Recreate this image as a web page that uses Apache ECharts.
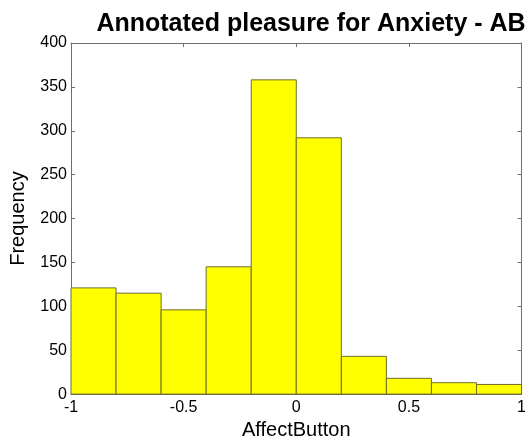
<!DOCTYPE html>
<html>
<head>
<meta charset="utf-8">
<script src="https://cdn.jsdelivr.net/npm/echarts@6/dist/echarts.min.js"></script>
<style>
  html, body { margin: 0; padding: 0; background: #fff; }
  #chart { width: 529px; height: 445px; }
</style>
</head>
<body>
<div id="chart"></div>
<script>
// Histogram bins: left edges, right edges and counts
const binStart = [-1.0, -0.8, -0.6, -0.4, -0.2, 0.0, 0.2, 0.4, 0.6, 0.8];
const binEnd   = [-0.8, -0.6, -0.4, -0.2, 0.0, 0.2, 0.4, 0.6, 0.8, 1.0];
const counts   = [121, 115, 96, 145, 358, 292, 43, 18, 13, 11];

const xTicks = [-1, -0.5, 0, 0.5, 1];
const yTicks = [0, 50, 100, 150, 200, 250, 300, 350, 400];

const chartTitle = 'Annotated pleasure for Anxiety - AB';
const xName = 'AffectButton';
const yName = 'Frequency';

const FONT = '"Liberation Sans", Arial, sans-serif';
const AXIS_COLOR = '#6e6e6e';

const bins = binStart.map((s, i) => [s, binEnd[i], counts[i]]);

const chart = echarts.init(document.getElementById('chart'), null, { renderer: 'canvas' });

const tickLabel = v => String(v);

chart.setOption({
  animation: false,
  backgroundColor: '#ffffff',
  title: {
    text: chartTitle,
    left: 306,
    top: 7,
    textAlign: 'center',
    textStyle: { fontFamily: FONT, fontSize: 25, fontWeight: 'bold', color: '#000' }
  },
  grid: { left: 68, right: 5, top: 43, bottom: 46, containLabel: false },
  xAxis: [
    {
      type: 'value', min: xTicks[0], max: xTicks[xTicks.length - 1], interval: 0.5,
      position: 'bottom',
      name: xName, nameLocation: 'middle', nameGap: 24,
      nameTextStyle: { fontFamily: FONT, fontSize: 20, color: '#000' },
      axisLine: { show: true, onZero: false, lineStyle: { color: AXIS_COLOR, width: 1 } },
      axisTick: { show: true, inside: true, length: 4, lineStyle: { color: AXIS_COLOR } },
      axisLabel: { fontFamily: FONT, fontSize: 16, color: '#000', margin: 5, formatter: tickLabel },
      splitLine: { show: false }
    },
    {
      type: 'value', min: xTicks[0], max: xTicks[xTicks.length - 1], interval: 0.5,
      position: 'top',
      axisLine: { show: true, onZero: false, lineStyle: { color: AXIS_COLOR, width: 1 } },
      axisTick: { show: true, inside: true, length: 4, lineStyle: { color: AXIS_COLOR } },
      axisLabel: { show: false },
      splitLine: { show: false }
    }
  ],
  yAxis: [
    {
      type: 'value', min: yTicks[0], max: yTicks[yTicks.length - 1], interval: 50,
      position: 'left',
      name: yName, nameLocation: 'middle', nameGap: 43, nameRotate: 90,
      nameTextStyle: { fontFamily: FONT, fontSize: 20, color: '#000' },
      axisLine: { show: true, onZero: false, lineStyle: { color: AXIS_COLOR, width: 1 } },
      axisTick: { show: true, inside: true, length: 4, lineStyle: { color: AXIS_COLOR } },
      axisLabel: { fontFamily: FONT, fontSize: 16, color: '#000', margin: 4, formatter: tickLabel },
      splitLine: { show: false }
    },
    {
      type: 'value', min: yTicks[0], max: yTicks[yTicks.length - 1], interval: 50,
      position: 'right',
      axisLine: { show: true, onZero: false, lineStyle: { color: AXIS_COLOR, width: 1 } },
      axisTick: { show: true, inside: true, length: 4, lineStyle: { color: AXIS_COLOR } },
      axisLabel: { show: false },
      splitLine: { show: false }
    }
  ],
  series: [
    {
      type: 'custom',
      xAxisIndex: 0,
      yAxisIndex: 0,
      data: bins,
      encode: { x: [0, 1], y: 2 },
      renderItem: function (params, api) {
        const p0 = api.coord([api.value(0), 0]);
        const p1 = api.coord([api.value(1), api.value(2)]);
        return {
          type: 'rect',
          shape: { x: p0[0], y: p1[1], width: p1[0] - p0[0], height: p0[1] - p1[1] },
          style: { fill: '#ffff00', stroke: '#6f6f2a', lineWidth: 1 }
        };
      },
      z: 1
    }
  ]
});
</script>
</body>
</html>
